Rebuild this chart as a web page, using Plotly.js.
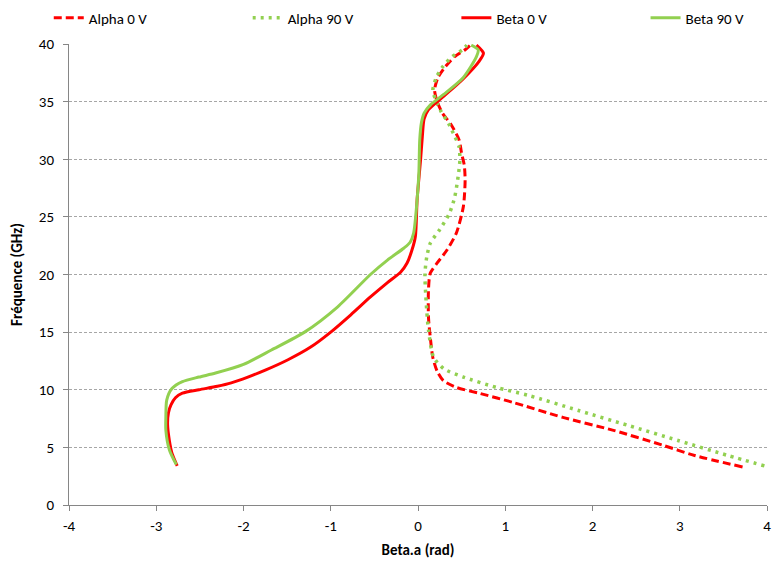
<!DOCTYPE html>
<html>
<head>
<meta charset="utf-8">
<script src="https://cdn.plot.ly/plotly-3.0.1.min.js"></script>
<style>html,body{margin:0;padding:0;background:#fff;}#chart{width:772px;height:568px;}</style>
</head>
<body>
<div id="chart"></div>
<script>
// Alpha 0 V (red dashed)
const alpha0_x = [3.72,3.17,2.80,2.23,1.66,1.09,0.70,0.44,0.29,0.22,0.17,0.14,0.12,0.12,0.14,0.22,0.33,0.44,0.52,0.54,0.53,0.50,0.47,0.38,0.28,0.22,0.19,0.23,0.31,0.42,0.54,0.60];
const alpha0_y = [3.3,4.3,5.2,6.5,7.6,8.9,9.7,10.2,10.8,11.6,12.8,14.6,16.3,18.65,20.1,21.0,22.1,23.6,25.9,28.2,29.5,30.5,31.7,33.0,34.0,35.0,36.0,37.1,38.0,38.9,39.5,39.9];
// Alpha 90 V (green dotted)
const alpha90_x = [3.97,3.55,2.98,2.41,1.84,1.27,0.90,0.52,0.30,0.18,0.12,0.09,0.08,0.10,0.14,0.25,0.36,0.42,0.46,0.48,0.47,0.42,0.35,0.26,0.20,0.17,0.21,0.28,0.39,0.51,0.56];
const alpha90_y = [3.4,4.3,5.6,6.9,8.2,9.5,10.2,11.1,11.8,12.8,15.2,18.05,20.1,21.5,22.7,23.9,25.3,26.7,28.5,29.9,31.1,32.0,33.1,34.2,35.2,36.0,37.1,38.0,38.9,39.5,39.9];
// Beta 0 V (red solid)
const beta0_x = [-2.76,-2.82,-2.85,-2.87,-2.86,-2.83,-2.78,-2.70,-2.51,-2.30,-2.14,-1.95,-1.75,-1.49,-1.23,-1.00,-0.77,-0.545,-0.35,-0.20,-0.125,-0.07,-0.03,-0.01,0.03,0.05,0.07,0.12,0.30,0.52,0.70,0.75,0.67];
const beta0_y = [3.4,4.5,5.6,7.0,8.0,8.7,9.3,9.7,10.0,10.3,10.6,11.1,11.7,12.6,13.7,15.0,16.5,18.05,19.3,20.2,21.0,22.1,23.3,26.5,30.0,32.0,33.5,34.3,35.5,37.0,38.5,39.2,39.9];
// Beta 90 V (green solid)
const beta90_x = [-2.77,-2.85,-2.89,-2.89,-2.88,-2.82,-2.70,-2.51,-2.32,-2.00,-1.68,-1.30,-0.92,-0.545,-0.35,-0.16,-0.09,-0.05,-0.01,0.01,0.02,0.04,0.07,0.14,0.29,0.52,0.67,0.69,0.61];
const beta90_y = [3.5,4.8,6.5,7.6,9.1,10.1,10.7,11.1,11.45,12.2,13.45,15.0,17.2,20.0,21.25,22.3,22.8,23.6,26.5,28.8,31.7,33.2,34.0,34.7,35.6,37.1,38.9,39.5,39.9];

const names = ["Alpha 0 V","Alpha 90 V","Beta 0 V","Beta 90 V"];
const xTicks = [-4,-3,-2,-1,0,1,2,3,4];
const yTicks = [0,5,10,15,20,25,30,35,40];

const RED = "#ff0000", GREEN = "#92d050";
const FONT = "Carlito, 'Liberation Sans Narrow', 'Open Sans', sans-serif";
const SPL = {shape: "spline", smoothing: 0.7};

const traces = [
  {x: alpha0_x, y: alpha0_y, name: names[0], legend: "legend", mode: "lines", line: Object.assign({color: RED, width: 3, dash: "8px,4px"}, SPL)},
  {x: alpha90_x, y: alpha90_y, name: names[1], legend: "legend2", mode: "lines", line: Object.assign({color: GREEN, width: 3.5, dash: "3px,5px"}, SPL)},
  {x: beta0_x, y: beta0_y, name: names[2], legend: "legend3", mode: "lines", line: Object.assign({color: RED, width: 3}, SPL)},
  {x: beta90_x, y: beta90_y, name: names[3], legend: "legend4", mode: "lines", line: Object.assign({color: GREEN, width: 3}, SPL)}
];

function leg(xp) {
  return {orientation: "h", x: xp, xanchor: "left", y: 1.092, yanchor: "top", bgcolor: "rgba(0,0,0,0)",
          font: {family: FONT, size: 15, color: "#000"}};
}

const layout = {
  width: 772, height: 568,
  margin: {l: 69, r: 5, t: 44, b: 63, autoexpand: false},
  paper_bgcolor: "#fff", plot_bgcolor: "#fff",
  font: {family: FONT, size: 15, color: "#000"},
  showlegend: true,
  legend: leg(-0.029),
  legend2: leg(0.256),
  legend3: leg(0.555),
  legend4: leg(0.826),
  xaxis: {range: [-4, 4], tickvals: xTicks, ticktext: xTicks.map(String), showgrid: false, zeroline: false,
          showline: true, linecolor: "#868686", linewidth: 1, ticks: "outside", ticklen: 5, tickcolor: "#868686",
          tickfont: {family: FONT, size: 15}, ticklabelstandoff: 2, ticklabeloverflow: "allow",
          title: {text: "<b>Beta.a (rad)</b>", font: {family: FONT, size: 15}, standoff: 10}},
  yaxis: {range: [0, 40], tickvals: yTicks, ticktext: yTicks.map(String), showgrid: true, gridcolor: "#a6a6a6",
          griddash: "3px,2px", gridwidth: 1, zeroline: false,
          showline: true, linecolor: "#868686", linewidth: 1, ticks: "outside", ticklen: 5, tickcolor: "#868686",
          tickfont: {family: FONT, size: 15}, ticklabelstandoff: 6,
          title: {text: "<b>Fréquence (GHz)</b>", font: {family: FONT, size: 15}, standoff: 12}}
};

Plotly.newPlot("chart", traces, layout, {displayModeBar: false, staticPlot: true});
</script>
</body>
</html>
